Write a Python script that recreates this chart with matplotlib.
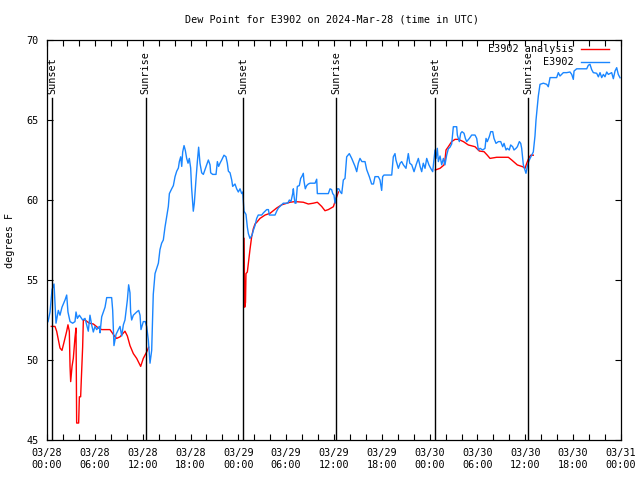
import numpy as np
import matplotlib
matplotlib.use('Agg')
import matplotlib.pyplot as plt
from matplotlib.lines import Line2D

# hours since 03/28 00:00 UTC, dew point in deg F
obs_hours = [0.13, 0.38, 0.63, 0.88, 1.13, 1.42, 1.63, 1.88, 2.26, 2.47, 2.63, 2.89, 3.22, 3.51, 3.64, 3.81,
             4.06, 4.47, 4.77, 4.98, 5.18, 5.39, 5.6, 5.81, 6.02, 6.23, 6.57, 6.65, 6.86, 7.28, 7.49, 8.11,
             8.24, 8.4, 8.66, 8.95, 9.16, 9.37, 9.58, 9.78, 10.08, 10.24, 10.41, 10.49, 10.62, 10.83, 11.25,
             11.5, 11.67, 11.79, 12.08, 12.33, 12.5, 12.71, 12.92, 13.13, 13.33, 13.55, 13.97,
             14.17, 14.38, 14.59, 14.8, 15.01, 15.22, 15.35, 15.64, 15.85, 16.06, 16.27, 16.48, 16.6, 16.77,
             16.9, 17.02, 17.19, 17.35, 17.52, 17.69, 17.85, 18.02, 18.14, 18.27, 18.35, 18.48, 18.69, 18.86,
             19.02, 19.19, 19.4, 19.61, 19.82, 20.03, 20.24, 20.45, 20.53, 20.78, 21.2, 21.37, 21.53, 21.7,
             21.91, 22.2, 22.45, 22.62, 22.75, 22.96, 23.17, 23.29, 23.58, 23.79, 24.0, 24.21, 24.42, 24.55,
             24.63, 24.71, 24.84, 24.96, 25.13, 25.26, 25.46, 25.72, 25.88, 26.09, 26.3, 26.5,
             26.93, 27.15, 27.35, 27.56, 27.77, 27.89, 28.6, 28.81, 29.02, 29.44, 29.64, 30.2, 30.4, 30.6,
             30.82, 30.9, 31.0, 31.11, 31.23, 31.4, 31.65, 31.82, 32.0, 32.15, 32.23, 32.4, 32.57, 32.78,
             33.0, 33.62, 33.83, 33.91, 34.5, 35.29, 35.5, 35.7, 35.84, 36.0, 36.13, 36.25, 36.42, 36.6,
             36.8, 36.97, 37.17, 37.38, 37.59, 37.92, 38.22, 38.64, 38.85, 39.05, 39.26, 39.5, 39.89, 40.1,
             40.43, 40.72, 40.95, 41.14, 41.56, 41.77, 41.98, 42.1, 42.27, 43.24, 43.44, 43.65, 43.77, 44.07,
             44.3, 44.49, 44.7, 45.03, 45.32, 45.5, 45.75, 46.04, 46.3, 46.58, 46.8, 47.0, 47.2, 47.42,
             47.63, 47.9, 48.13, 48.38, 48.54, 48.67, 48.8, 48.96, 49.09, 49.3, 49.51, 49.72, 49.92, 50.13,
             50.34, 50.55, 50.76, 50.97, 51.39, 51.47, 51.72, 51.89, 52.06, 52.31, 52.48, 52.64, 52.98,
             53.27, 53.69, 53.9, 54.11, 54.32, 54.65, 54.94, 55.07, 55.23, 55.48, 55.66, 55.91, 56.07,
             56.32, 56.62, 56.91, 57.16, 57.33, 57.58, 57.74, 57.99, 58.16, 58.41, 58.58, 58.83, 59.0,
             59.25, 59.42, 59.54, 59.75, 59.96, 60.08, 60.25, 60.42, 60.59, 60.8, 61.0, 61.21, 61.34, 61.5,
             61.63, 61.84, 62.26, 62.68, 62.88, 63.1, 63.93, 64.14, 64.35, 64.77, 65.19, 65.6, 65.82, 66.02,
             66.11, 66.44, 67.28, 67.7, 67.9, 68.11, 68.32, 68.53, 68.95, 69.16, 69.37, 69.58, 69.79,
             69.99, 70.21, 70.41, 70.83, 71.04, 71.25, 71.46, 71.66, 71.88]
obs_dewpt = [52.4, 53.0, 54.4, 54.75, 52.3, 53.1, 52.8, 53.3, 53.75, 54.06, 53.0, 52.4, 52.3, 52.4, 53.0, 52.6,
             52.8, 52.5, 52.6, 52.2, 51.8, 52.8, 52.2, 51.75, 52.1, 51.9, 52.1, 51.7, 52.7, 53.3, 53.9, 53.9,
             53.1, 50.9, 51.6, 51.9, 52.1, 51.5, 52.2, 52.5, 53.75, 54.7, 54.2, 53.0, 52.5, 52.8, 53.0,
             53.1, 52.8, 51.9, 52.4, 52.4, 52.1, 51.25, 49.8, 50.6, 54.1, 55.4, 56.05,
             56.9, 57.3, 57.5, 58.3, 58.96, 59.6, 60.4, 60.7, 60.9, 61.46, 61.8, 62.0, 62.4, 62.7,
             62.1, 63.0, 63.4, 63.1, 62.6, 62.3, 62.6, 62.0, 60.75, 59.9, 59.3, 59.8, 61.3, 62.4,
             63.3, 62.3, 61.7, 61.6, 61.9, 62.2, 62.5, 62.2, 61.7, 61.6, 61.6, 62.4, 62.1, 62.3,
             62.5, 62.8, 62.7, 62.3, 61.8, 61.7, 61.25, 60.85, 61.0, 60.7, 60.5, 60.7, 60.4, 60.5,
             59.9, 59.3, 59.2, 59.1, 58.3, 57.9, 57.6, 57.8, 58.1, 58.4, 58.85, 59.06,
             59.06, 59.2, 59.3, 59.4, 59.4, 59.06, 59.06, 59.3, 59.5, 59.7, 59.8, 59.8, 60.0, 59.9,
             60.4, 60.7, 60.2, 59.8, 59.8, 60.85, 60.9, 61.35, 61.5, 61.67, 61.2, 60.7, 60.9, 61.0,
             61.05, 61.05, 61.3, 60.4, 60.4, 60.4, 60.7, 60.65, 60.4, 60.3, 59.8, 60.1, 60.7, 60.7,
             60.5, 60.4, 61.25, 61.35, 62.7, 62.9, 62.6, 62.1, 61.77, 62.3, 62.6, 62.4, 62.4, 61.9,
             61.46, 61.0, 61.0, 61.46, 61.46, 61.25, 60.6, 61.46, 61.56, 61.56, 62.7, 62.9, 62.5, 61.98,
             62.3, 62.4, 62.2, 61.98, 62.9, 62.3, 62.2, 61.77, 62.2, 62.6, 62.1, 61.77, 62.3, 61.98,
             62.6, 62.2, 61.98, 61.77, 62.5, 63.125, 62.6, 63.23, 62.4, 62.75, 62.2, 62.6, 62.2, 62.8,
             63.2, 63.3, 63.5, 64.58, 64.58, 64.06, 63.65, 64.17, 64.27, 64.17, 63.85, 63.65, 63.85,
             64.06, 64.06, 63.85, 63.125, 63.23, 63.125, 63.23, 63.85, 63.65, 63.96, 64.27, 64.27, 63.85,
             63.54, 63.65, 63.65, 63.33, 63.54, 63.125, 63.23, 63.125, 63.44, 63.33, 63.125, 63.23, 63.33,
             63.65, 63.54, 63.23, 62.2, 61.875, 61.67, 62.1, 62.4, 62.6, 62.8, 63.0, 64.0, 65.0, 65.8,
             66.5, 67.23, 67.3, 67.23, 67.08, 67.65, 67.65, 67.96, 67.75, 67.96, 67.96, 68.0, 67.85, 67.54,
             68.06, 68.2, 68.2, 68.2, 68.42, 68.48, 68.15, 67.96, 67.92, 67.7, 67.96, 67.65, 67.85,
             67.7, 68.0, 67.85, 67.96, 67.58, 68.06, 68.27, 67.85, 67.64]

# analysis series, nan marks the gaps between visible pieces
ana_hours = [0.54, 1.0, 1.21, 1.63, 1.88, 2.13, 2.47, 2.63, 2.8, 2.89, 2.97, 3.14, 3.3, 3.51, 3.64, 3.72,
             3.97, 4.06, 4.22, 4.31, 4.47, 4.56, 4.77, 5.31, 5.81, 6.44, 6.86, 7.9, 8.53, 8.74, 9.16, 9.78,
             10.08, 10.41, 10.83, 11.25, 11.75, 12.08, 12.5, 12.75, np.nan,
             24.72, 24.8, 24.9, 24.96, 25.13, 25.46, 25.67, 25.88, 26.09, 26.3, 26.72, 27.35, 27.98, 28.81,
             29.44, 30.48, 31.11, 32.15, 32.78, 33.41, 33.91, 34.45, 34.87, 35.29, 35.92, 36.13, 36.34,
             36.55, np.nan,
             48.71, 49.3, 49.8, 49.92, 50.05, 50.34, 50.76, 51.18, 51.6, 52.23, 52.85, 53.69, 54.23, 54.82,
             55.23, 55.57, 56.41, 57.87, 58.29, 59.0, 59.67, 59.96, 60.17, 60.42, 60.67, 61.0]
ana_dewpt = [52.1, 52.1, 51.8, 50.75, 50.6, 51.1, 51.8, 52.2, 51.8, 49.6, 48.65, 49.6, 50.1, 51.4, 52.0, 46.06,
             46.06, 47.7, 47.7, 48.85, 50.8, 52.5, 52.5, 52.3, 52.25, 52.0, 51.9, 51.9, 51.45, 51.35, 51.45, 51.8,
             51.5, 50.9, 50.4, 50.1, 49.6, 50.1, 50.5, 50.8, np.nan,
             57.6, 53.3, 53.6, 55.4, 55.5, 56.9, 57.7, 58.2, 58.5, 58.6, 58.85, 59.06, 59.17, 59.5,
             59.7, 59.86, 59.9, 59.86, 59.75, 59.8, 59.86, 59.6, 59.33, 59.4, 59.58, 59.9, 60.2,
             60.5, np.nan,
             61.875, 61.98, 62.19, 62.5, 63.125, 63.33, 63.65, 63.79, 63.79, 63.65, 63.44, 63.33, 63.06, 63.02,
             62.8, 62.6, 62.67, 62.67, 62.5, 62.19, 62.08, 61.98, 62.29, 62.6, 62.8, 62.8]

sun_hours = [0.63, 12.36, 24.63, 36.29, 48.72, 60.36]
sun_labels = ['Sunset', 'Sunrise', 'Sunset', 'Sunrise', 'Sunset', 'Sunrise']

xtick_hours = np.arange(0, 73, 6)
xtick_labels = ['03/28\n00:00', '03/28\n06:00', '03/28\n12:00', '03/28\n18:00',
                '03/29\n00:00', '03/29\n06:00', '03/29\n12:00', '03/29\n18:00',
                '03/30\n00:00', '03/30\n06:00', '03/30\n12:00', '03/30\n18:00', '03/31\n00:00']

plt.rcParams['font.family'] = 'DejaVu Sans Mono'
plt.rcParams['font.size'] = 7.3

red = '#ff0000'
blue = '#1a86ff'

fig = plt.figure(figsize=(6.4, 4.8), dpi=100)
ax = fig.add_axes([47/640, 40/480, 574/640, 400/480])

ax.plot(ana_hours, ana_dewpt, color=red, lw=1.0)
ax.plot(obs_hours, obs_dewpt, color=blue, lw=1.0)

for h, lab in zip(sun_hours, sun_labels):
    ax.plot([h, h], [45, 66.4], color='black', lw=1.0)
    ax.text(h, 66.6, lab, rotation=90, ha='center', va='bottom')

ax.set_xlim(0, 72)
ax.set_ylim(45, 70)
ax.set_xticks(xtick_hours)
ax.set_xticklabels(xtick_labels)
ax.set_xticks(np.arange(0, 73, 2), minor=True)
ax.set_yticks(np.arange(45, 71, 5))
ax.tick_params(which='both', direction='in', top=True, right=True, length=4, width=0.8)
ax.tick_params(axis='x', pad=6)
ax.tick_params(axis='y', pad=6)
for s in ax.spines.values():
    s.set_linewidth(0.9)

# legend drawn like gnuplot's key: right aligned text, sample on the right
for i, (lab, col) in enumerate([('E3902 analysis', red), ('E3902', blue)]):
    yy = 0.9775 - i * 0.0325
    ax.text(0.918, yy, lab, transform=ax.transAxes, ha='right', va='center')
    ax.add_line(Line2D([0.930, 0.979], [yy, yy], transform=ax.transAxes, color=col, lw=1.0))

fig.text(332/640, 1 - 19/480, 'Dew Point for E3902 on 2024-Mar-28 (time in UTC)', ha='center', va='center')
fig.text(10/640, 0.5, 'degrees F', rotation=90, ha='center', va='center')

fig.savefig('out.png', dpi=100)
